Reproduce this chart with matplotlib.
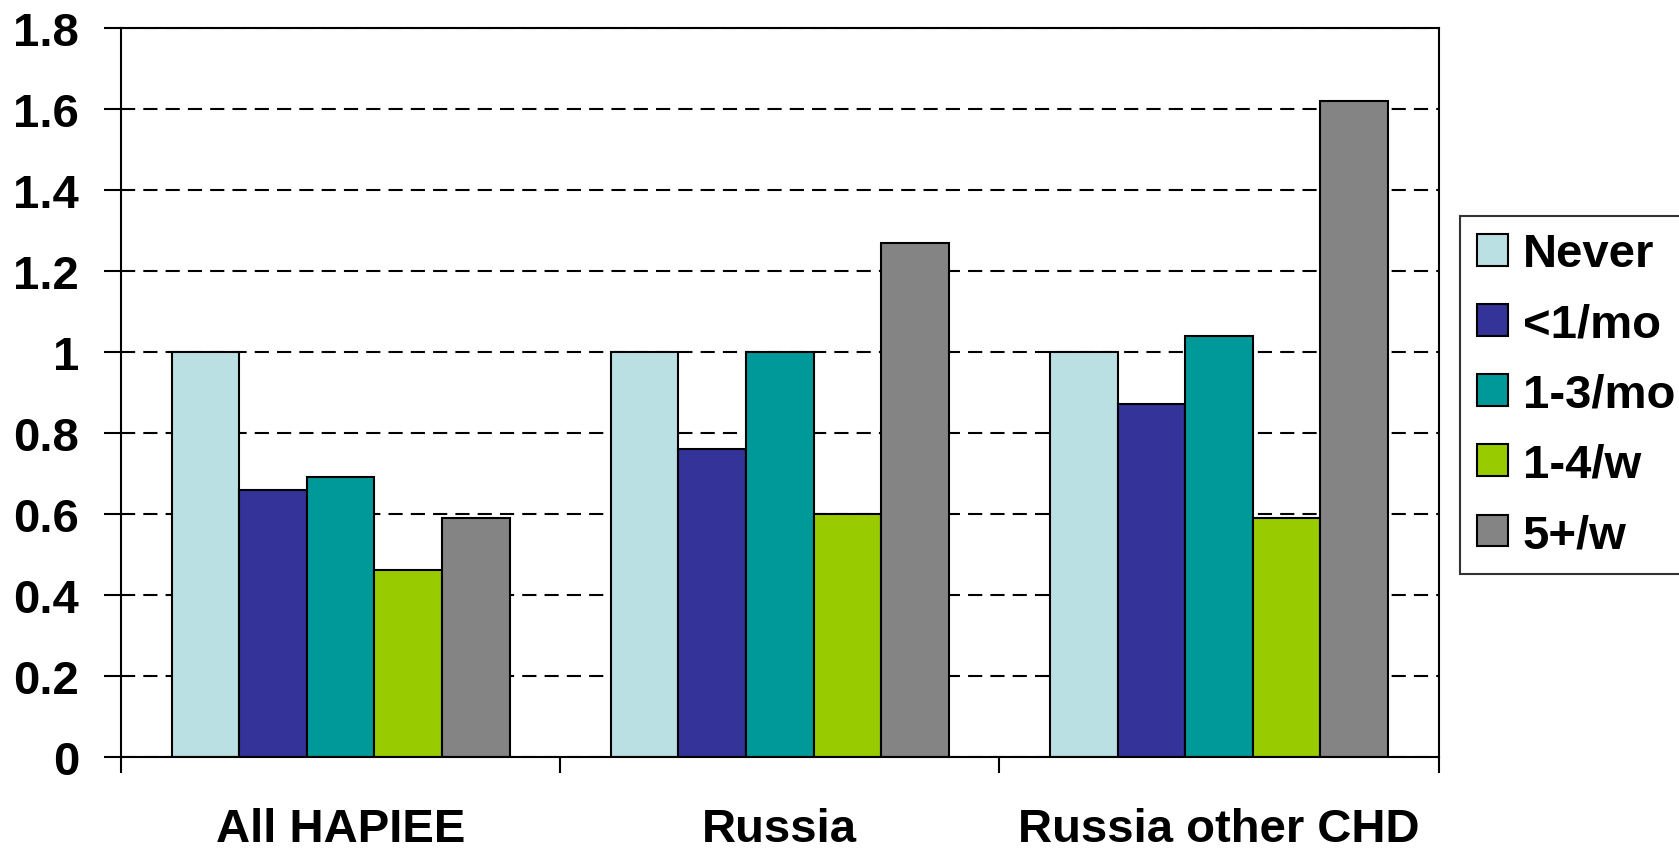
import matplotlib
matplotlib.use("Agg")
import matplotlib.pyplot as plt
import numpy as np

# Data
categories = ["All HAPIEE", "Russia", "Russia other CHD"]
series_names = ["Never", "<1/mo", "1-3/mo", "1-4/w", "5+/w"]
never = [1.00, 1.00, 1.00]
lt1_mo = [0.66, 0.76, 0.87]
mo1_3 = [0.69, 1.00, 1.04]
w1_4 = [0.46, 0.60, 0.59]
w5_plus = [0.59, 1.27, 1.62]
series_values = [never, lt1_mo, mo1_3, w1_4, w5_plus]
colors = ["#BBE0E3", "#333399", "#009999", "#99CC00", "#848484"]
y_ticks = [0, 0.2, 0.4, 0.6, 0.8, 1.0, 1.2, 1.4, 1.6, 1.8]
y_tick_labels = ["0", "0.2", "0.4", "0.6", "0.8", "1", "1.2", "1.4", "1.6", "1.8"]

plt.rcParams["font.family"] = ["Liberation Sans", "DejaVu Sans"]
plt.rcParams["font.weight"] = "bold"
FS = 34

W, H = 1679, 853
fig = plt.figure(figsize=(W / 100, H / 100), dpi=100)
ax = fig.add_axes([121 / W, 1 - 757.7 / H, (1438.7 - 121) / W, (757.7 - 29) / H])

n_series = len(series_names)
bar_w = 1 / (n_series + 1.5)
x = np.arange(len(categories))
handles = []
for i, (name, vals, col) in enumerate(zip(series_names, series_values, colors)):
    offs = (i - (n_series - 1) / 2) * bar_w
    b = ax.bar(x + offs, vals, width=bar_w, color=col, edgecolor="black",
               linewidth=1.5, label=name, zorder=3)
    handles.append(b)

ax.set_xlim(-0.5, len(categories) - 0.5)
ax.set_ylim(0, 1.8)

# y axis
ax.set_yticks(y_ticks)
ax.set_yticklabels(y_tick_labels, fontsize=FS, fontweight="bold")
ax.tick_params(axis="y", direction="out", length=12.2, width=1.5, pad=18)

# x axis: boundary ticks, labels at category centres
ax.set_xticks(np.arange(len(categories) + 1) - 0.5)
ax.set_xticklabels([])
ax.set_xticks(x, minor=True)
ax.set_xticklabels(categories, minor=True, fontsize=FS, fontweight="bold")
ax.tick_params(axis="x", which="major", direction="out", length=11.7, width=1.5)
ax.tick_params(axis="x", which="minor", length=0, pad=36)

ax.grid(axis="y", color="black", linewidth=1.5, linestyle=(0, (6.8, 3.9)), zorder=0)
ax.set_axisbelow(True)
for sp in ax.spines.values():
    sp.set_linewidth(1.5)
    sp.set_zorder(4)

leg = fig.legend(handles=handles, labels=series_names, loc="upper left",
                 bbox_to_anchor=(1460 / W, 1 - 216.7 / H),
                 frameon=True, fancybox=False, edgecolor="black",
                 handlelength=0.66, handleheight=0.66, handletextpad=0.32,
                 labelspacing=0.555, borderpad=0.35, borderaxespad=0,
                 prop={"weight": "bold", "size": FS})
leg.get_frame().set_linewidth(1.5)

fig.savefig("out.png", dpi=100)
